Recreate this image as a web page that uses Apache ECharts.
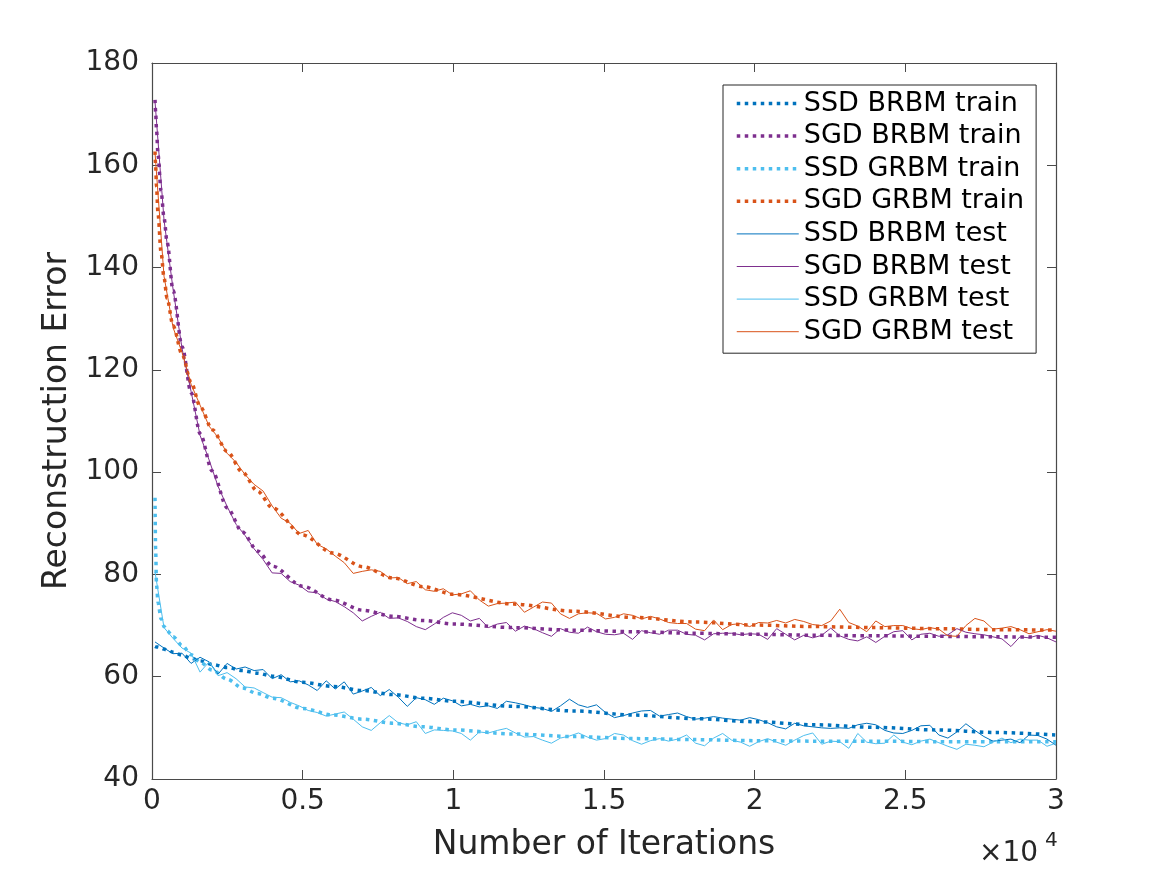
<!DOCTYPE html>
<html>
<head>
<meta charset="utf-8">
<script src="https://cdn.jsdelivr.net/npm/echarts@6/dist/echarts.min.js"></script>
<style>
  html, body { margin: 0; padding: 0; background: #fff; }
  #chart { width: 1167px; height: 875px; }
</style>
</head>
<body>
<div id="chart"></div>
<script>
// x values are in units of 1e4 iterations
const trainX = [0.01, 0.012, 0.015, 0.02, 0.03, 0.04, 0.05, 0.07, 0.1, 0.13, 0.16, 0.2, 0.25, 0.3, 0.35, 0.4,
  0.5, 0.6, 0.7, 0.8, 0.9, 1.0, 1.2, 1.4, 1.6, 1.8, 2.0, 2.2, 2.4, 2.6, 2.8, 3.0]

const ssdBrbmTrain = [65.9, 65.9, 65.8, 65.8, 65.6, 65.4, 65.2, 64.8, 64.2, 63.6, 63.1, 62.4, 61.8, 61.2, 60.7, 60.1,
  58.9, 58.1, 57.3, 56.5, 55.8, 55.2, 54.2, 53.3, 52.5, 51.8, 51.2, 50.6, 50.1, 49.6, 49.1, 48.6]
const sgdBrbmTrain = [172.8, 170.5, 167, 162, 155, 149.7, 145, 135.5, 124.5, 115.5, 107.5, 100.2, 93, 88.3, 84.6, 81.6,
  77.7, 75, 73, 71.8, 71, 70.3, 69.6, 69.1, 68.8, 68.5, 68.3, 68.1, 68, 67.9, 67.8, 67.7]
const ssdGrbmTrain = [95, 85, 78, 74.5, 71.3, 69.8, 69, 67.8, 66.1, 64.3, 62.8, 61.3, 59.5, 57.8, 56.7, 55.8,
  53.8, 52.5, 51.7, 50.9, 50.2, 49.6, 48.8, 48.3, 47.9, 47.7, 47.5, 47.4, 47.4, 47.3, 47.3, 47.3]
const sgdGrbmTrain = [162.7, 160, 155.8, 150.5, 143, 138, 134, 128.6, 123, 117.5, 112.8, 108.3, 104, 100, 96.3, 93,
  87.7, 84.2, 81.5, 79.3, 77.6, 76.1, 74.2, 72.8, 71.6, 70.7, 70.1, 69.8, 69.6, 69.4, 69.2, 69.1]

// test error is logged on a regular grid of 101 checkpoints
const testX = Array.from({ length: 101 }, (_, i) => +(0.01 + i * 0.0299).toFixed(4))

const ssdBrbmTest = [66.8, 65.6, 64.5, 64.6, 62.6, 63.8, 62.9, 60.5, 62.6, 61.5, 61.9, 61.2, 61.4, 59.6, 60.4, 59.0,
  59.2, 58.4, 57.3, 59.2, 57.6, 59.0, 56.6, 57.2, 57.9, 56.3, 57.5, 56.0, 54.2, 55.9, 55.5, 54.6, 55.8,
  55.3, 54.3, 54.6, 54.1, 54.3, 53.8, 55.2, 54.9, 54.5, 54.0, 53.8, 53.2, 54.3, 55.6, 54.5, 54.0, 54.5,
  53.0, 52.0, 52.4, 52.9, 53.3, 53.4, 52.3, 52.6, 52.9, 52.2, 51.7, 51.9, 52.2, 51.9, 51.7, 51.5, 52.0,
  51.6, 51.0, 50.2, 49.8, 50.9, 50.4, 50.2, 50.0, 49.9, 50.0, 49.9, 50.6, 50.9, 50.6, 49.5, 49.0, 48.9,
  49.5, 50.4, 50.5, 48.6, 48.0, 49.2, 50.8, 49.5, 48.3, 47.4, 47.6, 47.8, 47.1, 48.6, 48.5, 47.8, 46.6]
const sgdBrbmTest = [172.5, 149.3, 135.8, 124.2, 115.8, 107.2, 102.4, 97.2, 93.3, 89.8, 87.6, 85.0, 82.9, 80.3, 80.2,
  78.6, 77.9, 76.6, 76.4, 75.2, 74.7, 73.7, 72.5, 70.9, 71.8, 72.6, 71.4, 71.5, 70.8, 69.8, 69.2, 70.3, 71.6,
  72.5, 72.0, 70.9, 71.4, 69.6, 70.3, 70.6, 68.9, 69.9, 69.4, 68.6, 67.9, 69.4, 68.7, 68.5, 69.7, 68.8,
  68.3, 68.2, 68.5, 67.3, 69.0, 68.6, 68.3, 69.1, 69.1, 68.3, 68.1, 67.2, 68.4, 68.5, 68.5, 68.2, 68.4,
  68.3, 67.3, 69.4, 68.3, 67.2, 68.1, 67.6, 68.1, 69.5, 68.0, 67.3, 67.0, 67.8, 66.7, 67.9, 68.8, 69.0,
  67.2, 68.3, 68.5, 67.9, 68.2, 69.4, 68.7, 68.4, 68.2, 67.8, 67.4, 65.9, 67.8, 67.6, 68.1, 67.6, 66.8]
const ssdGrbmTest = [80.5, 69.6, 67.5, 65.6, 64.6, 60.9, 62.9, 60.2, 60.8, 59.6, 58.0, 57.8, 56.9, 56.0, 55.9, 55.0,
  54.3, 53.4, 53.0, 52.3, 52.7, 53.1, 51.7, 50.2, 49.5, 51.0, 52.4, 51.0, 50.6, 51.2, 48.9, 49.6, 49.5,
  49.4, 48.9, 47.6, 49.2, 49.0, 49.5, 49.9, 49.0, 48.2, 48.3, 47.6, 47.0, 48.0, 48.4, 49.0, 48.2, 47.6,
  47.9, 48.9, 48.6, 47.5, 46.8, 47.5, 47.9, 47.4, 47.8, 48.6, 47.0, 46.5, 48.0, 48.9, 47.6, 47.2, 46.4, 47.3,
  47.9, 47.2, 46.6, 47.6, 48.5, 49.0, 46.8, 47.4, 47.3, 46.0, 48.9, 47.2, 46.9, 47.0, 48.6, 47.2, 46.7,
  47.4, 47.8, 47.1, 46.4, 45.8, 46.8, 46.6, 46.3, 47.2, 48.0, 47.1, 47.8, 47.6, 47.6, 46.4, 47.0]
const sgdGrbmTest = [162.5, 138.3, 128.3, 123.4, 117.2, 113.1, 109.0, 106.8, 103.7, 101.9, 99.5, 97.6, 96.3, 93.4,
  91.0, 90.0, 88.0, 88.6, 85.9, 85.0, 83.6, 82.3, 80.2, 80.6, 80.9, 80.6, 79.3, 79.4, 78.2, 78.6, 77.0, 76.7, 77.2,
  76.0, 76.2, 76.8, 75.0, 73.8, 74.3, 74.4, 74.6, 72.6, 73.6, 74.6, 74.4, 72.3, 71.4, 72.3, 72.5, 72.4,
  71.3, 71.6, 72.3, 72.0, 71.3, 71.8, 71.3, 70.6, 70.4, 70.4, 69.3, 69.0, 71.1, 69.2, 70.2, 70.4, 69.8,
  70.6, 70.5, 71.0, 70.5, 71.2, 70.8, 70.2, 70.0, 70.9, 73.2, 70.6, 69.9, 68.8, 70.9, 69.8, 70.0, 70.0,
  69.4, 69.2, 69.6, 69.3, 68.0, 67.9, 70.0, 71.4, 70.9, 69.3, 69.5, 69.8, 69.2, 68.4, 68.8, 69.2, 68.9]

const xTicks = [0, 0.5, 1, 1.5, 2, 2.5, 3]
const yTicks = [40, 60, 80, 100, 120, 140, 160, 180]

const FONT = "'DejaVu Sans', 'Liberation Sans', sans-serif"
const AXIS_COLOR = '#4a4a4a'
const TEXT_COLOR = '#262626'

// MATLAB default colour order
const colors = {
  ssdBrbm: '#0072BD',
  sgdBrbm: '#7E2F8E',
  ssdGrbm: '#4DBEEE',
  sgdGrbm: '#D95319'
}

const DOTS = [3.5, 4.5]

const pairs = (xs, ys) => xs.map((x, i) => [x, ys[i]])

function trainSeries(name, color, values) {
  return {
    name,
    type: 'line',
    symbol: 'none',
    data: pairs(trainX, values),
    smooth: 0.3,
    smoothMonotone: 'x',
    itemStyle: { color },
    lineStyle: { color, width: 3.5, type: DOTS, cap: 'butt' },
    emphasis: { disabled: true },
    z: 2
  }
}

function testSeries(name, color, values) {
  return {
    name,
    type: 'line',
    symbol: 'none',
    data: pairs(testX, values),
    itemStyle: { color },
    lineStyle: { color, width: 1 },
    emphasis: { disabled: true },
    z: 3
  }
}

const axisCommon = {
  axisLine: { show: true, onZero: false, lineStyle: { color: AXIS_COLOR, width: 1.2 } },
  axisTick: { show: true, inside: true, length: 9, lineStyle: { color: AXIS_COLOR, width: 1 } },
  splitLine: { show: false }
}

const trainNames = ['SSD BRBM train', 'SGD BRBM train', 'SSD GRBM train', 'SGD GRBM train']
const testNames = ['SSD BRBM test', 'SGD BRBM test', 'SSD GRBM test', 'SGD GRBM test']

const legendData = [
  ...trainNames.map(name => ({ name, itemStyle: { opacity: 0 }, lineStyle: { width: 3.5, type: DOTS, cap: 'butt' } })),
  ...testNames.map(name => ({ name, itemStyle: { opacity: 0 }, lineStyle: { width: 1 } }))
]

const chart = echarts.init(document.getElementById('chart'))

chart.setOption({
  animation: false,
  backgroundColor: '#fff',
  grid: { left: 152, right: 111, top: 63, bottom: 96 },
  xAxis: [
    {
      type: 'value', position: 'bottom', min: xTicks[0], max: xTicks[xTicks.length - 1], interval: 0.5,
      ...axisCommon,
      axisLabel: { color: TEXT_COLOR, fontSize: 28, fontFamily: FONT, margin: 9 },
      name: 'Number of Iterations',
      nameLocation: 'middle',
      nameGap: 50,
      nameTextStyle: { color: TEXT_COLOR, fontSize: 33, fontFamily: FONT }
    },
    {
      type: 'value', position: 'top', min: xTicks[0], max: xTicks[xTicks.length - 1], interval: 0.5,
      ...axisCommon,
      axisLabel: { show: false }
    }
  ],
  yAxis: [
    {
      type: 'value', position: 'left', min: yTicks[0], max: yTicks[yTicks.length - 1], interval: 20,
      ...axisCommon,
      axisLabel: { color: TEXT_COLOR, fontSize: 28, fontFamily: FONT, margin: 13 },
      name: 'Reconstruction Error',
      nameLocation: 'middle',
      nameGap: 78,
      nameTextStyle: { color: TEXT_COLOR, fontSize: 33, fontFamily: FONT }
    },
    {
      type: 'value', position: 'right', min: yTicks[0], max: yTicks[yTicks.length - 1], interval: 20,
      ...axisCommon,
      axisLabel: { show: false }
    }
  ],
  legend: {
    orient: 'vertical',
    left: 723,
    top: 85,
    padding: [5, 12, 8, 12],
    itemWidth: 62,
    itemHeight: 14,
    itemGap: 5.6,
    backgroundColor: '#fff',
    borderColor: '#262626',
    borderWidth: 1,
    borderRadius: 0,
    selectedMode: false,
    textStyle: { color: '#000', fontSize: 27, fontFamily: FONT },
    data: legendData
  },
  graphic: [
    {
      type: 'text', left: 979, top: 840,
      style: { text: '×10', fontSize: 28, fontFamily: FONT, fill: TEXT_COLOR }
    },
    {
      type: 'text', left: 1045, top: 831,
      style: { text: '4', fontSize: 20, fontFamily: FONT, fill: TEXT_COLOR }
    }
  ],
  series: [
    trainSeries(trainNames[0], colors.ssdBrbm, ssdBrbmTrain),
    trainSeries(trainNames[1], colors.sgdBrbm, sgdBrbmTrain),
    trainSeries(trainNames[2], colors.ssdGrbm, ssdGrbmTrain),
    trainSeries(trainNames[3], colors.sgdGrbm, sgdGrbmTrain),
    testSeries(testNames[0], colors.ssdBrbm, ssdBrbmTest),
    testSeries(testNames[1], colors.sgdBrbm, sgdBrbmTest),
    testSeries(testNames[2], colors.ssdGrbm, ssdGrbmTest),
    testSeries(testNames[3], colors.sgdGrbm, sgdGrbmTest)
  ]
})
</script>
</body>
</html>
